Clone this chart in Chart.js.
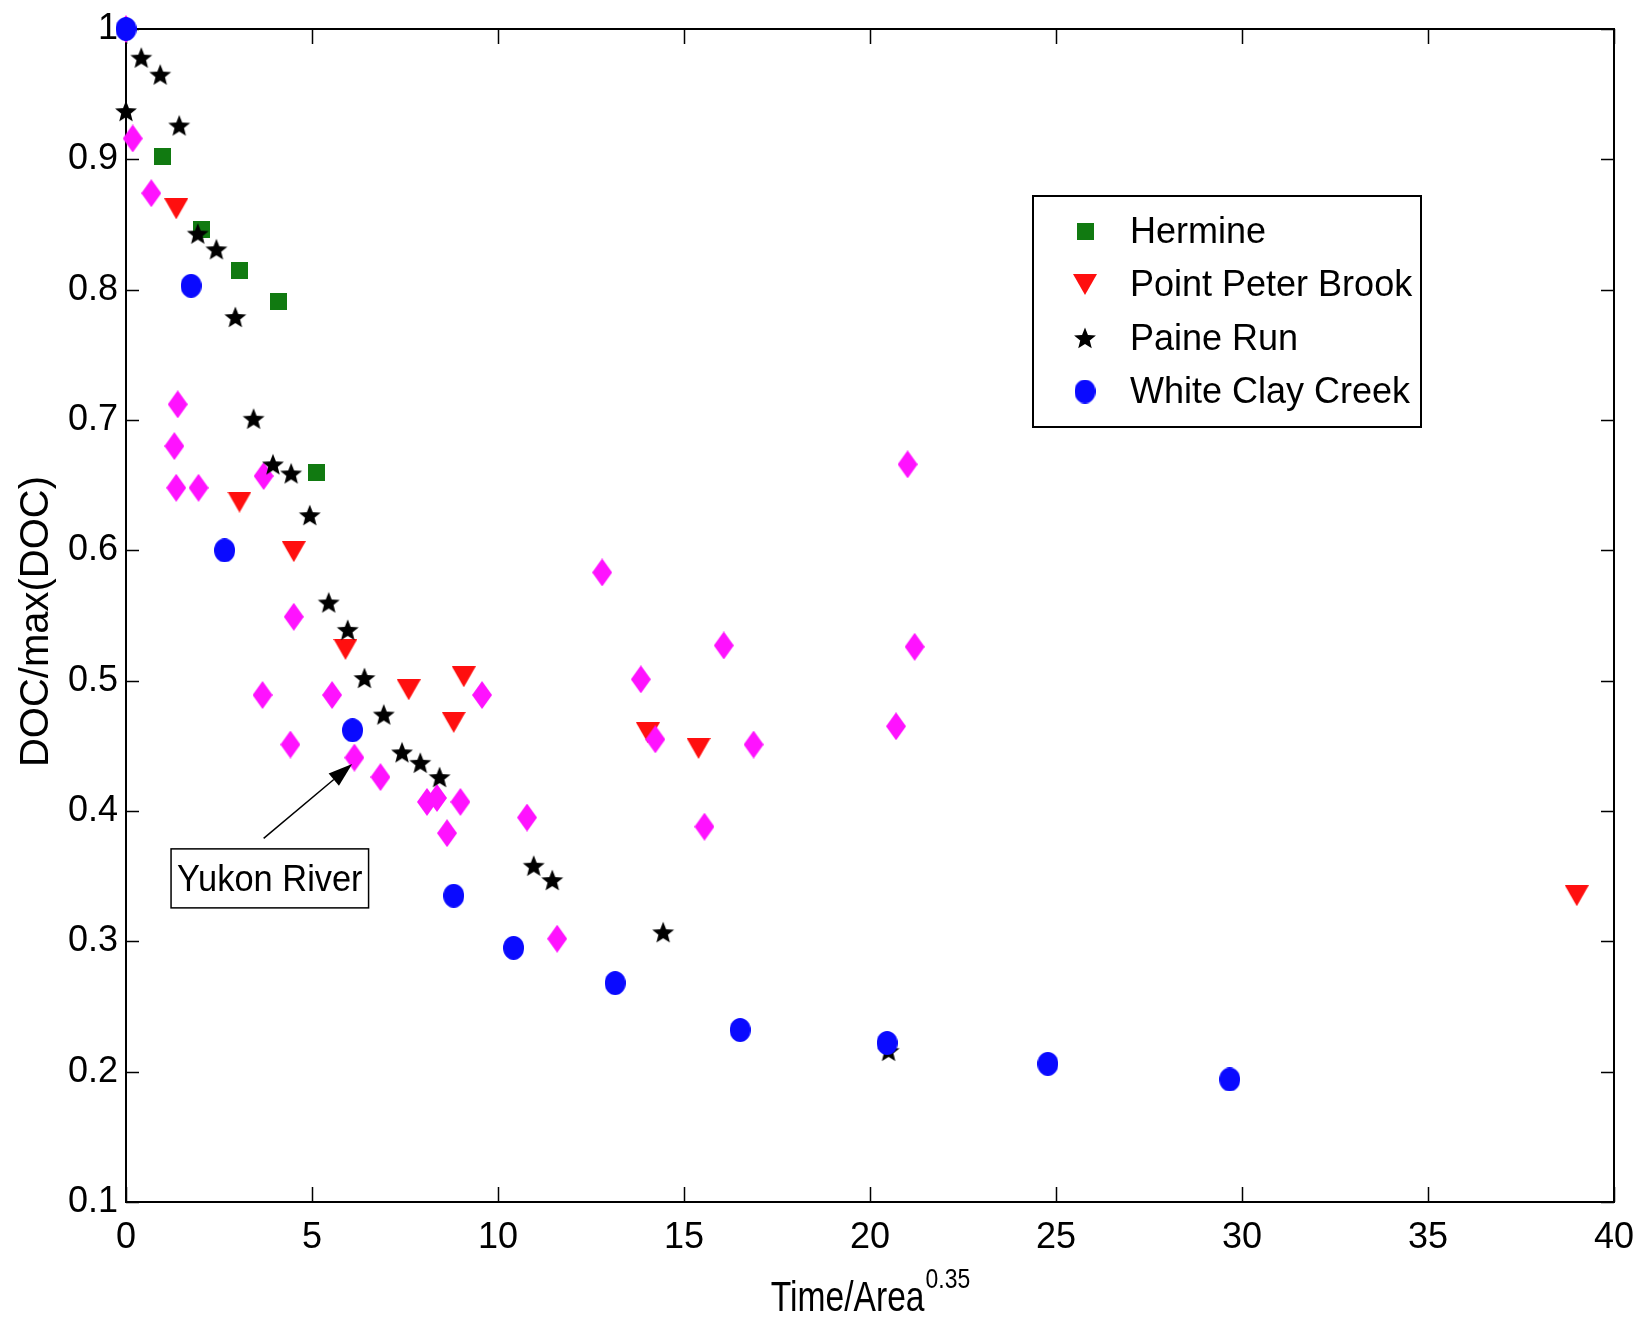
<!DOCTYPE html>
<html>
<head>
<meta charset="utf-8">
<script src="https://cdn.jsdelivr.net/npm/chart.js@4.4.1/dist/chart.umd.min.js"></script>
<style>
  html, body { margin: 0; padding: 0; background: #fff; }
  #wrap { width: 1640px; height: 1320px; }
</style>
</head>
<body>
<div id="wrap"><canvas id="c" width="1640" height="1320"></canvas></div>
<script>
// Axis ticks
const xTicks = [0, 5, 10, 15, 20, 25, 30, 35, 40];
const yTicks = [0.1, 0.2, 0.3, 0.4, 0.5, 0.6, 0.7, 0.8, 0.9, 1];

// Hermine
const hermineX = [0.99, 2.04, 3.05, 4.11, 5.12];
const hermineY = [0.902, 0.846, 0.815, 0.791, 0.660];

// Point Peter Brook
const peterX = [1.35, 3.05, 4.51, 5.90, 7.60, 9.08, 8.81, 14.03, 15.39, 39.0];
const peterY = [0.862, 0.637, 0.599, 0.524, 0.493, 0.503, 0.468, 0.460, 0.448, 0.335];

// Paine Run
const paineX = [0, 0.41, 0.92, 1.43, 1.93, 2.43, 2.94, 3.43, 3.95, 4.44, 4.94, 5.45, 5.96,
                6.41, 6.93, 7.42, 7.91, 8.43, 10.96, 11.46, 14.44, 20.5];
const paineY = [0.937, 0.978, 0.965, 0.926, 0.843, 0.831, 0.779, 0.701, 0.666, 0.659, 0.627, 0.560, 0.539,
                0.502, 0.474, 0.445, 0.437, 0.426, 0.358, 0.347, 0.307, 0.216];

// White Clay Creek
const clayX = [0, 1.75, 2.65, 6.09, 8.81, 10.42, 13.15, 16.51, 20.46, 24.78, 29.67];
const clayY = [1.0, 0.803, 0.600, 0.462, 0.335, 0.295, 0.268, 0.232, 0.222, 0.206, 0.194];

// Yukon River
const yukonX = [0, 0.18, 0.68, 1.39, 1.30, 1.35, 1.95, 3.70, 4.51, 3.67, 5.54, 9.57, 4.42, 6.14, 6.84,
                8.09, 8.36, 8.99, 8.63, 10.78, 11.59, 12.80, 13.84, 14.23, 15.55, 16.07, 16.87,
                20.70, 21.01, 21.20];
const yukonY = [1.0, 0.916, 0.874, 0.712, 0.680, 0.648, 0.648, 0.657, 0.549, 0.489, 0.489, 0.489, 0.451, 0.441, 0.426,
                0.407, 0.410, 0.407, 0.383, 0.395, 0.302, 0.583, 0.501, 0.455, 0.388, 0.527, 0.451,
                0.465, 0.666, 0.526];

// Text annotation: label anchor and arrow (tail -> head), in data units
const yukonLabel = 'Yukon River';
const yukonLabelAt = [3.866, 0.3483];
const yukonArrow = [[3.70, 0.379], [6.08, 0.436]];

const xTitle = 'Time/Area';
const xTitleSup = '0.35';
const yTitle = 'DOC/max(DOC)';

const FONT = "'Liberation Sans', Arial, Helvetica, sans-serif";

function toPoints(xs, ys) { return xs.map((x, i) => ({ x: x, y: ys[i] })); }

// Marker glyphs
function marker(w, h, paint) {
  const c = document.createElement('canvas');
  c.width = w; c.height = h;
  paint(c.getContext('2d'), w, h);
  return c;
}
const squareMk = marker(17, 17, (g, w, h) => { g.fillStyle = '#117a11'; g.fillRect(0, 0, w, h); });
const triMk = marker(24, 21, (g, w, h) => {
  g.fillStyle = '#ff0f0f';
  g.beginPath(); g.moveTo(0, 0); g.lineTo(w, 0); g.lineTo(w / 2, h); g.closePath(); g.fill();
});
const diamondMk = marker(20, 28, (g, w, h) => {
  g.fillStyle = '#ff12ff';
  g.beginPath(); g.moveTo(w / 2, 0); g.lineTo(w, h / 2); g.lineTo(w / 2, h); g.lineTo(0, h / 2); g.closePath(); g.fill();
});
const circleMk = marker(21, 24, (g, w, h) => {
  g.fillStyle = '#0a0aff';
  g.beginPath(); g.ellipse(w / 2, h / 2, w / 2, h / 2, 0, 0, Math.PI * 2); g.fill();
});
const starMk = marker(24, 24, (g, w, h) => {
  g.fillStyle = '#000';
  g.beginPath();
  const cx = w / 2, cy = h / 2 + 1, R = 11.5, r = 5.0;
  for (let i = 0; i < 10; i++) {
    const a = -Math.PI / 2 + i * Math.PI / 5;
    const rr = i % 2 === 0 ? R : r;
    const px = cx + rr * Math.cos(a), py = cy + rr * Math.sin(a);
    if (i === 0) g.moveTo(px, py); else g.lineTo(px, py);
  }
  g.closePath(); g.fill();
});

function ds(label, xs, ys, mk, order, inLegend) {
  return {
    label: label,
    data: toPoints(xs, ys),
    pointStyle: mk,
    pointRadius: 10,
    showLine: false,
    clip: false,
    order: order,
    inLegend: inLegend
  };
}

// Box, inward tick marks, titles, annotation and legend
const decorations = {
  id: 'decorations',
  beforeDatasetsDraw(chart) {
    const { ctx, chartArea: a, scales: { x, y } } = chart;
    ctx.save();
    ctx.strokeStyle = '#000';
    ctx.lineWidth = 1.5;
    ctx.beginPath();
    xTicks.forEach(v => {
      const px = Math.round(x.getPixelForValue(v)) + 0.5;
      ctx.moveTo(px, a.bottom); ctx.lineTo(px, a.bottom - 15);
      ctx.moveTo(px, a.top); ctx.lineTo(px, a.top + 15);
    });
    yTicks.forEach(v => {
      const py = Math.round(y.getPixelForValue(v)) + 0.5;
      ctx.moveTo(a.left, py); ctx.lineTo(a.left + 13, py);
      ctx.moveTo(a.right, py); ctx.lineTo(a.right - 13, py);
    });
    ctx.stroke();
    ctx.lineWidth = 2;
    ctx.strokeRect(a.left, a.top, a.right - a.left, a.bottom - a.top);
    ctx.restore();
  },
  afterDatasetsDraw(chart) {
    const { ctx, scales: { x, y } } = chart;
    ctx.save();
    // arrow
    const tx = x.getPixelForValue(yukonArrow[0][0]), ty = y.getPixelForValue(yukonArrow[0][1]);
    const hx = x.getPixelForValue(yukonArrow[1][0]), hy = y.getPixelForValue(yukonArrow[1][1]);
    const ang = Math.atan2(hy - ty, hx - tx);
    const L = 24, W = 8;
    const bx = hx - L * Math.cos(ang), by = hy - L * Math.sin(ang);
    ctx.strokeStyle = '#000'; ctx.fillStyle = '#000'; ctx.lineWidth = 1.5;
    ctx.beginPath(); ctx.moveTo(tx, ty); ctx.lineTo(bx, by); ctx.stroke();
    ctx.beginPath();
    ctx.moveTo(hx, hy);
    ctx.lineTo(bx + W * Math.sin(ang), by - W * Math.cos(ang));
    ctx.lineTo(bx - W * Math.sin(ang), by + W * Math.cos(ang));
    ctx.closePath(); ctx.fill();
    // label box
    const cx = x.getPixelForValue(yukonLabelAt[0]), cy = y.getPixelForValue(yukonLabelAt[1]);
    ctx.font = '37px ' + FONT;
    const sx = 0.93;
    const tw = ctx.measureText(yukonLabel).width * sx;
    const bw = tw + 12, bh = 59;
    ctx.fillStyle = '#fff';
    ctx.fillRect(cx - bw / 2, cy - bh / 2, bw, bh);
    ctx.lineWidth = 1.5; ctx.strokeStyle = '#000';
    ctx.strokeRect(cx - bw / 2, cy - bh / 2, bw, bh);
    ctx.fillStyle = '#000';
    ctx.textAlign = 'center'; ctx.textBaseline = 'middle';
    ctx.translate(cx, cy + 2);
    ctx.scale(sx, 1);
    ctx.fillText(yukonLabel, 0, 0);
    ctx.restore();
  },
  afterDraw(chart) {
    const { ctx, chartArea: a } = chart;
    ctx.save();
    ctx.fillStyle = '#000';
    // x title with superscript
    const midX = (a.left + a.right) / 2;
    ctx.font = '42px ' + FONT;
    const s1 = 0.8;
    const w1 = ctx.measureText(xTitle).width * s1;
    ctx.font = '27px ' + FONT;
    const s2 = 0.85;
    const w2 = ctx.measureText(xTitleSup).width * s2;
    const x0 = midX - (w1 + w2) / 2;
    ctx.textAlign = 'left'; ctx.textBaseline = 'alphabetic';
    ctx.save();
    ctx.translate(x0, 1311); ctx.scale(s1, 1);
    ctx.font = '42px ' + FONT;
    ctx.fillText(xTitle, 0, 0);
    ctx.restore();
    ctx.save();
    ctx.translate(x0 + w1 + 1, 1288); ctx.scale(s2, 1);
    ctx.font = '27px ' + FONT;
    ctx.fillText(xTitleSup, 0, 0);
    ctx.restore();
    // y title
    ctx.save();
    ctx.translate(37, (a.top + a.bottom) / 2 + 6);
    ctx.rotate(-Math.PI / 2);
    ctx.font = '40px ' + FONT;
    ctx.textAlign = 'center'; ctx.textBaseline = 'middle';
    ctx.fillText(yTitle, 0, 0);
    ctx.restore();
    // legend
    const box = { left: 1033, top: 196, right: 1421, bottom: 427 };
    ctx.fillStyle = '#fff';
    ctx.fillRect(box.left, box.top, box.right - box.left, box.bottom - box.top);
    ctx.lineWidth = 2; ctx.strokeStyle = '#000';
    ctx.strokeRect(box.left, box.top, box.right - box.left, box.bottom - box.top);
    const items = chart.data.datasets.filter(d => d.inLegend);
    items.sort((p, q) => p.legendIndex - q.legendIndex);
    ctx.font = '36px ' + FONT;
    ctx.textAlign = 'left'; ctx.textBaseline = 'middle';
    ctx.fillStyle = '#000';
    items.forEach((d, i) => {
      const ry = 231 + i * 53.5;
      const mk = d.pointStyle;
      ctx.drawImage(mk, 1085 - mk.width / 2, ry - mk.height / 2);
      ctx.fillText(d.label, 1130, ry + 2);
    });
    ctx.restore();
  }
};

const datasets = [
  ds('Hermine', hermineX, hermineY, squareMk, 5, true),
  ds('Point Peter Brook', peterX, peterY, triMk, 4, true),
  ds('Yukon River', yukonX, yukonY, diamondMk, 3, false),
  ds('Paine Run', paineX, paineY, starMk, 2, true),
  ds('White Clay Creek', clayX, clayY, circleMk, 1, true)
];
datasets.forEach((d, i) => { d.legendIndex = i; });

new Chart(document.getElementById('c'), {
  type: 'scatter',
  data: { datasets: datasets },
  options: {
    responsive: false,
    animation: false,
    devicePixelRatio: 1,
    events: [],
    layout: { padding: { top: 29, right: 26, left: 0, bottom: 0 } },
    plugins: { legend: { display: false }, tooltip: { enabled: false } },
    scales: {
      x: {
        type: 'linear', min: 0, max: 40,
        grid: { display: false, drawTicks: false },
        border: { display: false },
        afterBuildTicks: s => { s.ticks = xTicks.map(v => ({ value: v })); },
        afterFit: s => { s.height = 118; s.paddingLeft = 0; s.paddingRight = 0; },
        ticks: {
          color: '#000', padding: 14, maxRotation: 0,
          font: { family: FONT, size: 36 },
          callback: v => String(v)
        }
      },
      y: {
        type: 'linear', min: 0.1, max: 1,
        grid: { display: false, drawTicks: false },
        border: { display: false },
        afterBuildTicks: s => { s.ticks = yTicks.map(v => ({ value: v })); },
        afterFit: s => { s.width = 126; s.paddingTop = 0; s.paddingBottom = 0; },
        ticks: {
          color: '#000', padding: 8,
          font: { family: FONT, size: 36 },
          callback: v => (v === 1 ? '1' : Number(v).toFixed(1))
        }
      }
    }
  },
  plugins: [decorations]
});
</script>
</body>
</html>
